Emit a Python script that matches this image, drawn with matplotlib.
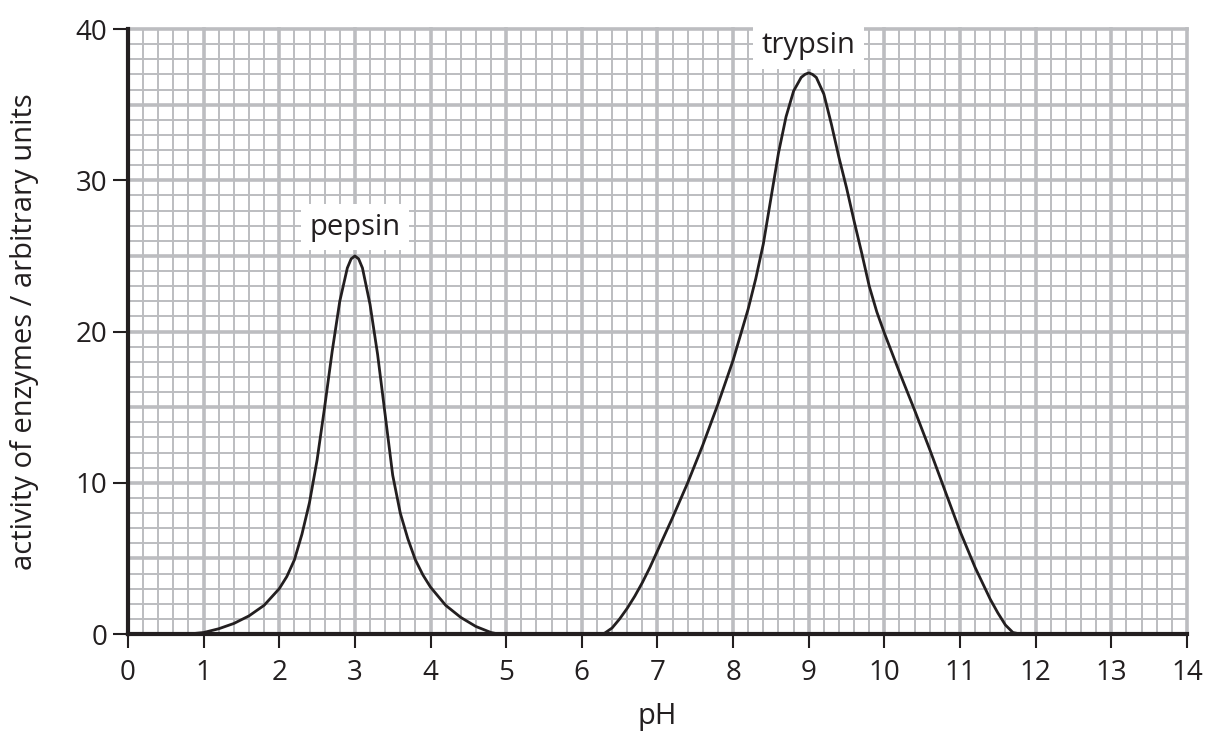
import matplotlib.pyplot as plt
from matplotlib.ticker import MultipleLocator

# readings taken off the original graph (pH, activity)
pepsin_ph = [0.8, 1.0, 1.2, 1.4, 1.6, 1.8, 2.0, 2.1, 2.2, 2.3, 2.4, 2.5, 2.6,
             2.7, 2.8, 2.9, 2.95, 3.0, 3.05, 3.1, 3.2, 3.3, 3.4, 3.5, 3.6,
             3.7, 3.8, 3.9, 4.0, 4.2, 4.4, 4.6, 4.8, 4.9]
pepsin_act = [0, 0.1, 0.35, 0.7, 1.2, 1.9, 3.0, 3.8, 4.9, 6.6, 8.7, 11.5, 15,
              18.7, 22, 24.2, 24.8, 25, 24.8, 24.2, 21.8, 18.5, 14.5, 10.5, 8.0,
              6.3, 4.9, 3.9, 3.1, 1.9, 1.1, 0.5, 0.1, 0]

trypsin_ph = [6.2, 6.3, 6.4, 6.5, 6.6, 6.7, 6.8, 6.9, 7.0, 7.2, 7.4, 7.6, 7.8,
              8.0, 8.1, 8.2, 8.3, 8.4, 8.5, 8.6, 8.7, 8.8, 8.9, 8.95, 9.0,
              9.05, 9.1, 9.2, 9.3, 9.4, 9.5, 9.6, 9.7, 9.8, 9.9, 10.0, 10.1,
              10.2, 10.4, 10.6, 10.8, 11.0, 11.2, 11.4, 11.5, 11.6, 11.7, 11.8]
trypsin_act = [0, 0.05, 0.4, 1.0, 1.7, 2.5, 3.4, 4.4, 5.5, 7.7, 10, 12.5, 15.2,
               18.1, 19.8, 21.5, 23.5, 25.8, 28.8, 31.8, 34.2, 35.9, 36.8, 37.0, 37.1,
               37.0, 36.8, 35.7, 33.7, 31.5, 29.5, 27.3, 25.2, 23.0, 21.3, 19.9, 18.6,
               17.3, 14.8, 12.2, 9.5, 6.8, 4.4, 2.3, 1.4, 0.6, 0.1, 0]

labels = ["pepsin", "trypsin"]
label_ph = [3.0, 9.0]
label_act = [26.9, 38.9]

plt.rcParams['font.family'] = ['Open Sans', 'DejaVu Sans']
grid_col = "#bcbdc0"
ink = "#231f20"
fs = 21

fig = plt.figure(figsize=(12.05, 7.33), dpi=100)
ax = fig.add_axes([0.1062, 0.135, 0.8788, 0.8254])

ax.plot(pepsin_ph, pepsin_act, color=ink, lw=2, zorder=3)
ax.plot(trypsin_ph, trypsin_act, color=ink, lw=2, zorder=3)

for name, x, y in zip(labels, label_ph, label_act):
    ax.text(x, y, name, ha="center", va="center", fontsize=fs, color=ink,
            bbox=dict(facecolor="white", edgecolor="none", pad=6), zorder=4,
            clip_on=False)

ax.set_xlim(0, 14)
ax.set_ylim(0, 40)
ax.xaxis.set_major_locator(MultipleLocator(1))
ax.xaxis.set_minor_locator(MultipleLocator(0.2))
ax.yaxis.set_major_locator(MultipleLocator(10))
ax.yaxis.set_minor_locator(MultipleLocator(1))

# graph paper
ax.grid(which="minor", color=grid_col, lw=1.4, zorder=0)
ax.set_axisbelow(True)
for v in range(0, 15):
    ax.axvline(v, color=grid_col, lw=2.6, zorder=0.5, clip_on=False)
for v in range(0, 41, 5):
    ax.axhline(v, color=grid_col, lw=2.6, zorder=0.5, clip_on=False)

for s in ["top", "right"]:
    ax.spines[s].set_visible(False)
for s in ["left", "bottom"]:
    ax.spines[s].set_linewidth(3)
    ax.spines[s].set_color(ink)
    ax.spines[s].set_zorder(5)

ax.tick_params(which="minor", length=0)
ax.tick_params(axis="x", which="major", length=10, width=1.5, color=ink,
               labelsize=20, labelcolor=ink, pad=8)
ax.tick_params(axis="y", which="major", length=11, width=1.5, color=ink,
               labelsize=20, labelcolor=ink, pad=4)

ax.set_xlabel("pH", fontsize=fs, color=ink, labelpad=11)
ax.set_ylabel("activity of enzymes / arbitrary units", fontsize=fs, color=ink,
              labelpad=26)

fig.savefig("out.png", dpi=100)
